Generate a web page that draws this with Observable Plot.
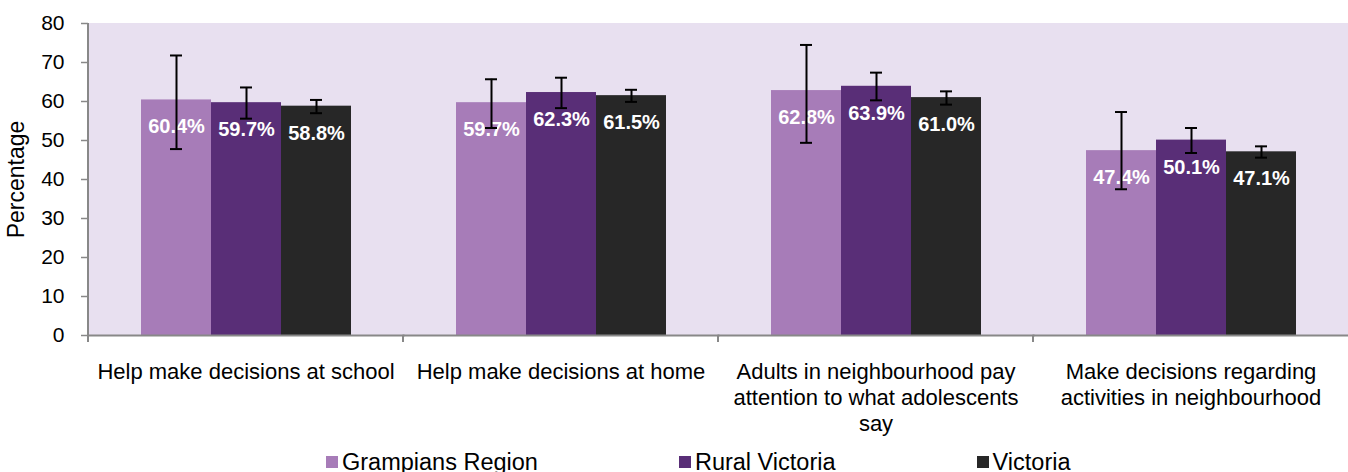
<!DOCTYPE html>
<html>
<head>
<meta charset="utf-8">
<script src="https://cdn.jsdelivr.net/npm/d3@7"></script>
<script src="https://cdn.jsdelivr.net/npm/@observablehq/plot@0.6"></script>
<style>
  html, body { margin: 0; padding: 0; background: #fff; overflow: hidden; }
  body { font-family: "Liberation Sans", Arial, sans-serif; width: 1348px; }
  #legend { display: flex; align-items: center; height: 32px; margin-top: 6px; padding-left: 326px; gap: 141px; font-size: 23.5px; color: #000; }
  #legend .item { display: flex; align-items: center; gap: 4px; white-space: nowrap; }
  #legend .sw { width: 12px; height: 12px; display: inline-block; }
</style>
</head>
<body>
<div id="chart"></div>
<div id="legend"></div>
<script>
const categories = [
  "Help make decisions at school",
  "Help make decisions at home",
  "Adults in neighbourhood pay attention to what adolescents say",
  "Make decisions regarding activities in neighbourhood"
];
const categoryLabels = [
  "Help make decisions at school",
  "Help make decisions at home",
  "Adults in neighbourhood pay\nattention to what adolescents\nsay",
  "Make decisions regarding\nactivities in neighbourhood"
];
const series = ["Grampians Region", "Rural Victoria", "Victoria"];
const colors = ["#a77cb8", "#592e77", "#272727"];

const grampians   = [60.4, 59.7, 62.8, 47.4];
const grampiansLo = [47.8, 53.2, 49.4, 37.5];
const grampiansHi = [71.8, 65.7, 74.5, 57.3];

const rural   = [59.7, 62.3, 63.9, 50.1];
const ruralLo = [55.6, 58.3, 60.3, 46.8];
const ruralHi = [63.6, 66.1, 67.4, 53.2];

const victoria   = [58.8, 61.5, 61.0, 47.1];
const victoriaLo = [57.0, 59.9, 59.2, 45.6];
const victoriaHi = [60.4, 63.0, 62.6, 48.5];

const yTicks = [0, 10, 20, 30, 40, 50, 60, 70, 80];

const seriesValues = [
  [grampians, grampiansLo, grampiansHi],
  [rural, ruralLo, ruralHi],
  [victoria, victoriaLo, victoriaHi]
];

const data = [];
categories.forEach((c, i) => {
  series.forEach((s, j) => {
    const [v, lo, hi] = seriesValues[j];
    data.push({category: c, series: s, value: v[i], lo: lo[i], hi: hi[i]});
  });
});

const labelOf = new Map(categories.map((c, i) => [c, categoryLabels[i]]));
const FONT = "'Liberation Sans', Arial, sans-serif";

const chart = Plot.plot({
  width: 1348,
  height: 440,
  marginTop: 23,
  marginBottom: 105,
  marginLeft: 88,
  marginRight: 0,
  style: {fontFamily: FONT, color: "#000", background: "#fff", overflow: "visible"},
  fx: {domain: categories, padding: 0},
  x: {domain: series, paddingInner: 0, paddingOuter: 0.75, axis: null},
  y: {domain: [0, 80]},
  color: {domain: series, range: colors},
  marks: [
    Plot.frame({fill: "#e8e0f0", stroke: "#e8e0f0", strokeWidth: 1}),
    Plot.barY(data, {fx: "category", x: "series", y: "value", fill: "series"}),
    Plot.text(data, {fx: "category", x: "series", y: "value", text: d => d.value.toFixed(1) + "%",
      dy: 27, fill: "white", fontWeight: "bold", fontSize: 20}),
    Plot.ruleX(data, {fx: "category", x: "series", y1: "lo", y2: "hi", stroke: "#000", strokeWidth: 2}),
    Plot.tickY(data, {fx: "category", x: "series", y: "hi", stroke: "#000", strokeWidth: 2, insetLeft: 29, insetRight: 29}),
    Plot.tickY(data, {fx: "category", x: "series", y: "lo", stroke: "#000", strokeWidth: 2, insetLeft: 29, insetRight: 29}),
    Plot.frame({anchor: "bottom", stroke: "#888", strokeWidth: 2}),
    Plot.axisY({ticks: yTicks, tickSize: 7, tickPadding: 17, fontSize: 21, stroke: "#888", strokeWidth: 1.5,
      label: "Percentage", labelAnchor: "center", labelArrow: "none", labelOffset: 81}),
    Plot.axisFx({anchor: "bottom", tickSize: 0, tickPadding: 25, fontSize: 22, lineHeight: 1.18, label: null,
      tickFormat: d => labelOf.get(d)})
  ]
});

// y-axis line and category boundary ticks from the scales
const svg = d3.select(chart);
const ys = chart.scale("y");
const fxs = chart.scale("fx");
const y0 = ys.apply(0), y80 = ys.apply(80);
const g = svg.append("g").attr("stroke", "#888");
const left = fxs.apply(categories[0]);
g.append("line").attr("x1", left).attr("x2", left).attr("y1", y80).attr("y2", y0).attr("stroke-width", 2);
categories.forEach(c => {
  const x = fxs.apply(c);
  g.append("line").attr("x1", x).attr("x2", x).attr("y1", y0).attr("y2", y0 + 7).attr("stroke-width", 2);
});
svg.selectAll("text").style("font-family", FONT);
svg.selectAll('g[aria-label="y-axis label"]').style("font-size", "23px").attr("font-size", 23);

document.getElementById("chart").appendChild(chart);

const legend = d3.select("#legend");
series.forEach((s, i) => {
  const item = legend.append("div").attr("class", "item");
  item.append("span").attr("class", "sw").style("background", colors[i]);
  item.append("span").text(s);
});
</script>
</body>
</html>
